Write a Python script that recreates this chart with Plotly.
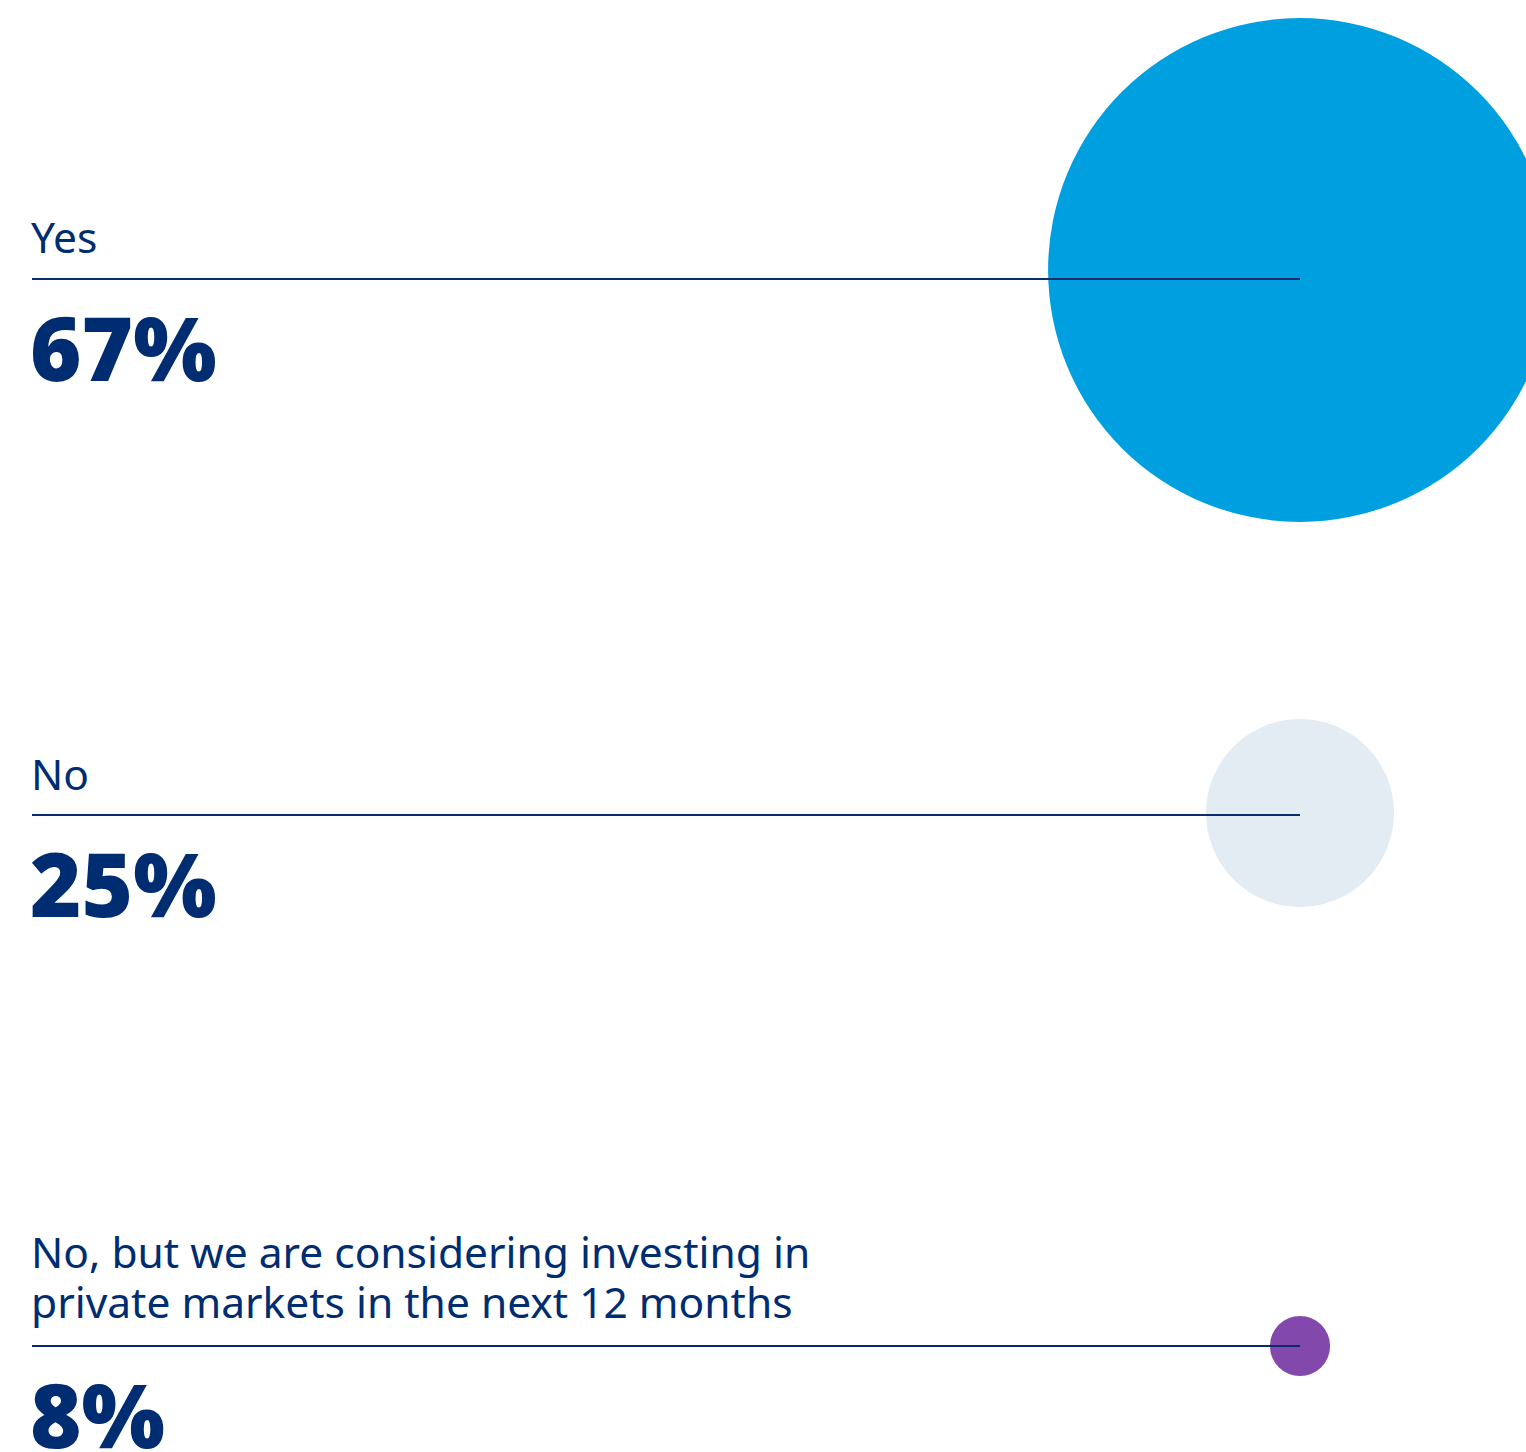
import plotly.graph_objects as go

# Survey answers and their shares (%)
categories = [
    "Yes",
    "No",
    "No, but we are considering investing in<br>private markets in the next 12 months",
]
values = [67, 25, 8]
colors = ["#009FE0", "#E3EBF3", "#8348AC"]

# Layout (pixel space: the axes span the whole canvas)
W, H = 1526, 1452
LINE_Y = [279, 815, 1346]      # rule under each answer
CIRCLE_Y = [270, 813, 1346]    # bubble centre per row
LABEL_GAP = [12, 11, 14]       # space between label block and its rule
LABEL_LEADING = 50             # distance between wrapped label lines
X_LEFT = 32
X_BUBBLE = 1300
PX_PER_POINT = 3.76            # bubble radius per percentage point
NAVY = "#002D72"
RULE = "#0B2B6F"

fig = go.Figure()

# Bubbles, radius proportional to the share
fig.add_trace(go.Scatter(
    x=[X_BUBBLE] * len(values),
    y=CIRCLE_Y,
    mode="markers",
    marker=dict(
        size=[2 * PX_PER_POINT * v for v in values],
        sizemode="diameter",
        color=colors,
        opacity=1,
        line=dict(width=0),
    ),
    hoverinfo="skip",
    showlegend=False,
    cliponaxis=True,
))

shapes = []
annotations = []
for cat, val, ly, gap in zip(categories, values, LINE_Y, LABEL_GAP):
    shapes.append(dict(
        type="line", xref="x", yref="y",
        x0=X_LEFT, x1=X_BUBBLE, y0=ly, y1=ly,
        line=dict(color=RULE, width=2),
        layer="above",
    ))
    lines = cat.split("<br>")
    n = len(lines)
    for i, txt in enumerate(lines):
        annotations.append(dict(
            x=X_LEFT - 3, y=ly - gap - (n - 1 - i) * LABEL_LEADING,
            xref="x", yref="y",
            xanchor="left", yanchor="bottom",
            text=txt, showarrow=False,
            font=dict(family="Noto Sans", size=42.5, color=NAVY),
        ))
    annotations.append(dict(
        x=X_LEFT - 4, y=ly + 6,
        xref="x", yref="y",
        xanchor="left", yanchor="top",
        text=f"{val}%", showarrow=False,
        font=dict(family="Noto Sans", size=88, color=NAVY, weight=900),
    ))

fig.update_layout(
    width=W, height=H,
    margin=dict(l=0, r=0, t=0, b=0),
    paper_bgcolor="white", plot_bgcolor="white",
    xaxis=dict(range=[0, W], visible=False, fixedrange=True),
    yaxis=dict(range=[H, 0], visible=False, fixedrange=True),
    shapes=shapes,
    annotations=annotations,
)

fig.write_html("out.html")
